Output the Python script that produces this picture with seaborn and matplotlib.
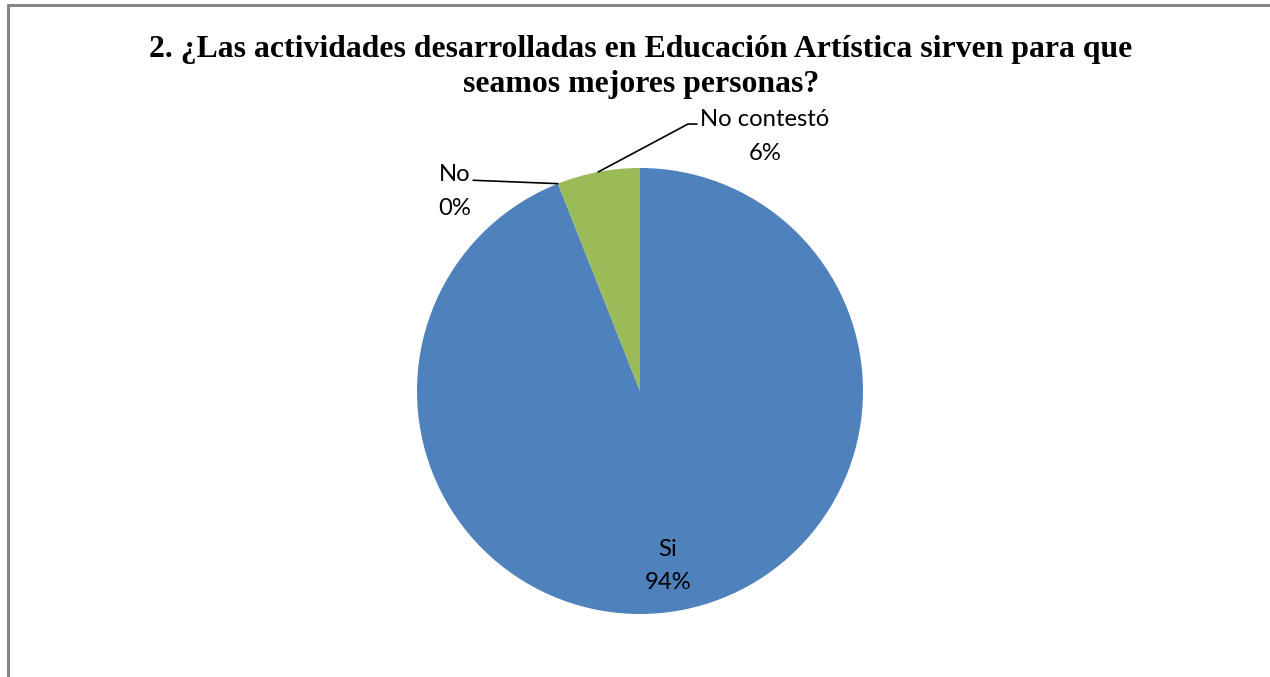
import matplotlib
matplotlib.use("Agg")
import matplotlib.pyplot as plt
import seaborn as sns
import numpy as np
from matplotlib.lines import Line2D

# datos de la encuesta
categorias = ["Si", "No", "No contestó"]
respuestas = [47, 0, 3]
colores = ["#4F81BD", "#C0504D", "#9BBB59"]
titulo = "2. ¿Las actividades desarrolladas en Educación Artística sirven para que\nseamos mejores personas?"

sns.set_style("white")
plt.rcParams['font.family'] = ['Lato', 'DejaVu Sans']
plt.rcParams['text.color'] = 'black'

fig = plt.figure(figsize=(12.7, 6.77), dpi=100)

# marco gris (arriba e izquierda)
fig.add_artist(Line2D([8 / 1270, 1.0], [1 - 4.5 / 677, 1 - 4.5 / 677], color="#868686", lw=2.2))
fig.add_artist(Line2D([8 / 1270, 8 / 1270], [0, 1 - 4.5 / 677], color="#868686", lw=2.2))

fig.text(641 / 1270, 1 - 67 / 677, titulo, ha="center", va="center", color="black",
         fontsize=22.9, fontweight="bold", family="Liberation Serif", linespacing=1.25)

ax = fig.add_axes([(640 - 223) / 1270, (677 - 614) / 677, 446 / 1270, 446 / 677])
wedges, _ = ax.pie(respuestas, colors=colores, startangle=90, counterclock=False,
                   radius=1, wedgeprops=dict(linewidth=0))
ax.set_xlim(-1, 1)
ax.set_ylim(-1, 1)
ax.set_aspect("equal")
ax.axis("off")

total = sum(respuestas)
pct = [f"{round(100 * v / total)}%" for v in respuestas]
txt = dict(ha="center", va="center", fontsize=17.2, linespacing=1.75, color="black")

# Si (dentro)
ax.text(0.126, -0.785, f"{categorias[0]}\n{pct[0]}", **txt)

# No (fuera, con línea guía)
ang_no = np.deg2rad(wedges[1].theta1)
ax.text(-0.83, 0.895, f"{categorias[1]}\n{pct[1]}", **txt)
ax.plot([-0.748, np.cos(ang_no)], [0.945, np.sin(ang_no)], color="black", lw=1.2, clip_on=False)

# No contestó (fuera, con línea guía)
w = wedges[2]
ang_nc = np.deg2rad((w.theta1 + w.theta2) / 2)
ax.text(0.561, 1.142, f"{categorias[2]}\n{pct[2]}", **txt)
ax.plot([0.255, 0.215, np.cos(ang_nc)], [1.197, 1.197, np.sin(ang_nc)], color="black", lw=1.2, clip_on=False)

plt.savefig("out.png", dpi=100)
